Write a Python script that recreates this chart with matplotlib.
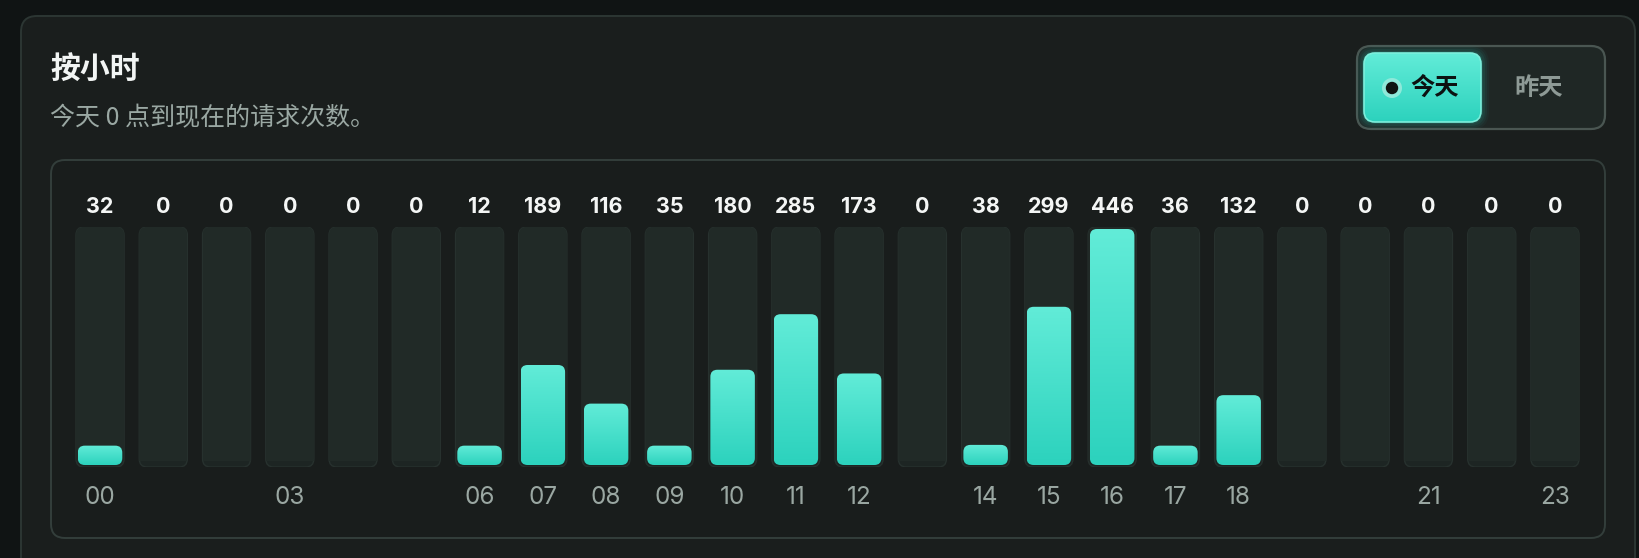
import numpy as np
import matplotlib
matplotlib.use("Agg")
import matplotlib.pyplot as plt
from matplotlib.patches import FancyBboxPatch, Circle
from matplotlib.colors import LinearSegmentedColormap
from matplotlib.transforms import blended_transform_factory

# ---------------- data ----------------
hours = ["00", "01", "02", "03", "04", "05", "06", "07", "08", "09", "10", "11",
         "12", "13", "14", "15", "16", "17", "18", "19", "20", "21", "22", "23"]
counts = [32, 0, 0, 0, 0, 0, 12, 189, 116, 35, 180, 285,
          173, 0, 38, 299, 446, 36, 132, 0, 0, 0, 0, 0]
shown_ticks = ["00", "03", "06", "07", "08", "09", "10", "11", "12", "14",
               "15", "16", "17", "18", "21", "23"]
title = "按小时"
subtitle = "今天 0 点到现在的请求次数。"
toggle_labels = ["今天", "昨天"]

# ---------------- style ----------------
W, H = 1640, 558
DPI = 100
OUT_BG = "#101414"
CARD_BG = "#1a1e1d"
CARD_EDGE = "#2c3633"
PANEL_BG = "#191d1c"
PANEL_EDGE = "#333e3b"
TRACK = "#212a27"
TRACK_BOTTOM = "#1d2523"
TRACK_EDGE = "#27312e"
TEAL_TOP = "#62ecd8"
TEAL_BOT = "#2cd2bd"
CJK = ["Noto Sans CJK SC", "DejaVu Sans"]
NUM = ["Inter", "Noto Sans CJK SC", "DejaVu Sans"]

fig = plt.figure(figsize=(W / DPI, H / DPI), dpi=DPI, facecolor=OUT_BG)

# background / chrome axes in pixel coordinates
bg = fig.add_axes([0, 0, 1, 1])
bg.set_xlim(0, W)
bg.set_ylim(H, 0)
bg.axis("off")
bg.set_zorder(0)


def rbox(ax, x0, y0, x1, y1, r, fc, ec="none", lw=0, z=1, alpha=1.0):
    p = FancyBboxPatch((x0, y0), x1 - x0, y1 - y0,
                       boxstyle=f"round,pad=0,rounding_size={r}",
                       fc=fc, ec=ec, lw=lw, zorder=z, alpha=alpha)
    ax.add_patch(p)
    return p


# outer card
rbox(bg, 21, 16, 1635, 640, 16, CARD_BG, CARD_EDGE, 1.4, z=1)

# titles
bg.text(50, 69, title, family=CJK, fontsize=21.5, fontweight="bold",
        color="#f2f5f4", va="center", ha="left", zorder=5)
bg.text(50, 118, subtitle, family=CJK, fontsize=18, color="#9aa8a3",
        va="center", ha="left", zorder=5)

# toggle group
rbox(bg, 1357, 46, 1605, 129, 14, "#1f2725", "#4a5652", 1.6, z=2)
# glow of active button
for k, a in zip([8, 6, 4, 2], [0.04, 0.06, 0.08, 0.10]):
    rbox(bg, 1364 - k, 53 - k, 1481 + k, 122 + k, 11 + k, "#2dd4bf", z=2.5, alpha=a)
act = rbox(bg, 1364, 53, 1481, 122, 11, "none", "#7cefdc", 1.2, z=4)
grad = np.linspace(0, 1, 256).reshape(-1, 1)
cm = LinearSegmentedColormap.from_list("teal", [TEAL_TOP, TEAL_BOT])
im = bg.imshow(grad, cmap=cm, extent=[1364, 1481, 122, 53], aspect="auto",
               zorder=3, interpolation="bilinear")
im.set_clip_path(act)
bg.add_patch(Circle((1392, 88), 10, fc="#8fe9da", ec="none", zorder=5))
bg.add_patch(Circle((1392, 88), 6.2, fc="#0f1412", ec="none", zorder=6))
bg.text(1435, 88, toggle_labels[0], family=CJK, fontsize=17.5, fontweight="bold",
        color="#0c1211", va="center", ha="center", zorder=6)
bg.text(1539, 88, toggle_labels[1], family=CJK, fontsize=17.5, fontweight="bold",
        color="#8e9a96", va="center", ha="center", zorder=6)

# inner chart panel
rbox(bg, 51, 160, 1605, 538, 14, PANEL_BG, PANEL_EDGE, 1.4, z=1.5)

# ---------------- bar axes ----------------
n = len(hours)
x_left_px, x_right_px = 68.4, 1586.6
track_top_px, track_bot_px = 227, 467
ax = fig.add_axes([x_left_px / W, 1 - track_bot_px / H,
                   (x_right_px - x_left_px) / W, (track_bot_px - track_top_px) / H])
ax.set_zorder(2)
ax.patch.set_alpha(0)
ax.axis("off")

vmax = max(counts)
inset_px = 2.0
ax_h_px = track_bot_px - track_top_px
ax_w_px = x_right_px - x_left_px
fill_span_px = ax_h_px - 2 * inset_px
units_per_px_y = vmax / fill_span_px
ylo = -inset_px * units_per_px_y
yhi = vmax + inset_px * units_per_px_y
units_per_px_x = n / ax_w_px
aspect = units_per_px_y / units_per_px_x

x = np.arange(n)
track_w = 48 * units_per_px_x
fill_w = 44.5 * units_per_px_x
min_h = 0.082 * vmax

# tracks
for xi in x:
    tp = FancyBboxPatch((xi - track_w / 2, ylo), track_w, yhi - ylo,
                        boxstyle=f"round,pad=0,rounding_size={8 * units_per_px_x}",
                        mutation_aspect=aspect, fc=TRACK_BOTTOM, ec=TRACK_EDGE,
                        lw=1.0, zorder=1)
    ax.add_patch(tp)
    body = ax.bar(xi, (yhi - ylo), bottom=ylo + 6 * units_per_px_y, width=track_w,
                  color=TRACK, zorder=1.1)[0]
    body.set_clip_path(tp)

# value bars with vertical gradient (light at top, deeper teal at bottom)
for xi, v in zip(x, counts):
    if v <= 0:
        continue
    h = max(v, min_h)
    bp = FancyBboxPatch((xi - fill_w / 2, 0), fill_w, h,
                        boxstyle=f"round,pad=0,rounding_size={7 * units_per_px_x}",
                        mutation_aspect=aspect, fc="none", ec="none", zorder=3)
    ax.add_patch(bp)
    gi = ax.imshow(grad, cmap=cm, extent=[xi - fill_w / 2, xi + fill_w / 2, 0, h],
                   aspect="auto", zorder=2.5, interpolation="bilinear")
    gi.set_clip_path(bp)

ax.set_xlim(-0.5, n - 0.5)
ax.set_ylim(ylo, yhi)

# value labels and hour labels
tr = blended_transform_factory(ax.transData, ax.transAxes)
val_y = (track_bot_px - 207) / ax_h_px
tick_y = (track_bot_px - 498) / ax_h_px
for xi, v, hname in zip(x, counts, hours):
    ax.text(xi, val_y, f"{v}", transform=tr, family=NUM, fontsize=15.5,
            fontweight="bold", color="#f4f6f5", ha="center", va="center",
            clip_on=False)
    if hname in shown_ticks:
        ax.text(xi, tick_y, hname, transform=tr, family=NUM, fontsize=17.5,
                color="#9aa7a2", ha="center", va="center", clip_on=False)

fig.savefig("out.png", dpi=DPI, facecolor=OUT_BG)
